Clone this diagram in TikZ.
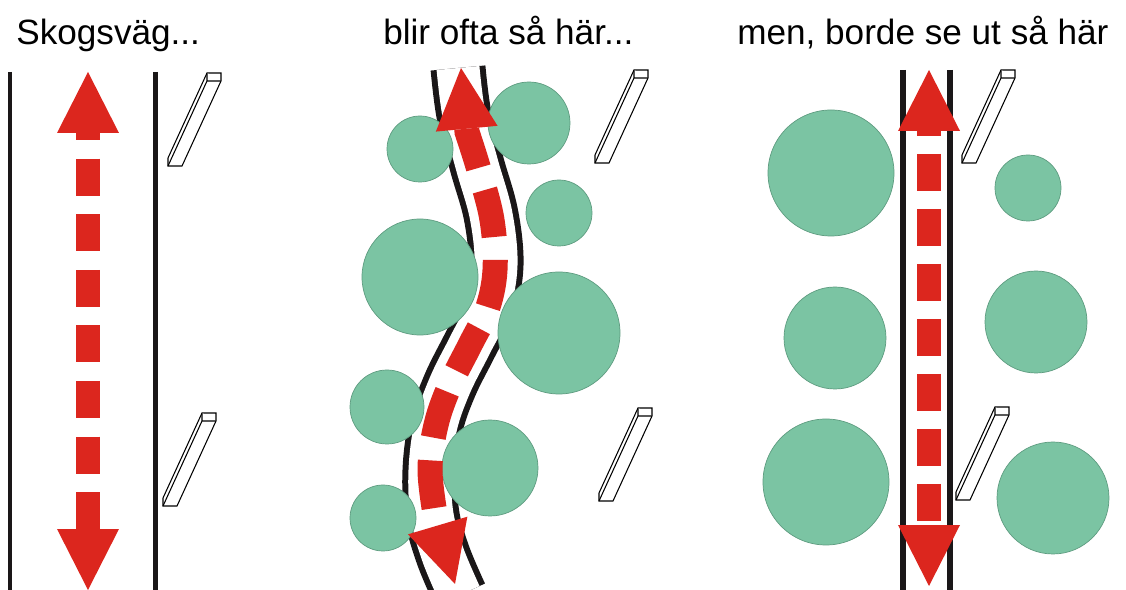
\documentclass[tikz,border=0pt]{standalone}
\usepackage{fontspec}
\setmainfont{Liberation Sans}
\usetikzlibrary{arrows.meta}

\begin{document}
\begin{tikzpicture}[x=0.02cm, y=-0.02cm,
    heading/.style={anchor=base west, inner sep=0pt, font=\fontsize{20}{24}\selectfont},
    roadLine/.style={draw=roadBlack, line width=0.1cm},
    tree/.style={fill=treeFill, draw=treeBorder, line width=0.4pt},
    post/.style={draw=black, fill=white, line width=0.6pt, line join=miter},
    trail/.style={draw=trailRed, line width=0.48cm,
        {Triangle[length=1.22cm, width=1.24cm, line width=0pt]}-{Triangle[length=1.22cm, width=1.24cm, line width=0pt]}}]
    % Color Palette
    \definecolor{roadBlack}{HTML}{1A1718}
    \definecolor{treeFill}{HTML}{7BC4A3}
    \definecolor{treeBorder}{HTML}{5E9C80}
    \definecolor{trailRed}{HTML}{DC261E}

    \useasboundingbox (0,0) rectangle (1126,590);

    % --- Headings ---
    \node[heading] (skogsvag) at (16,45) {Skogsväg...};
    \node[heading] (oftaHar) at (383,45) {blir ofta så här...};
    \node[heading] (bordeHar) at (737,45) {men, borde se ut så här};

    % --- Left: straight forest road ---
    \draw[roadLine] (10,72) -- (10,590);
    \draw[roadLine] (155,72) -- (155,590);

    % --- Middle: winding road ---
    \draw[roadLine, line width=0.12cm, double=white, double distance=0.86cm] plot[smooth, tension=0.6] coordinates
        {(458,68) (464,115) (477,165) (491,215) (496,265) (488,308) (470,345) (450,385) (436,425) (430,470) (432,515) (443,555) (460,595)};

    % --- Right: straight road ---
    \draw[roadLine, line width=0.12cm] (903,70) -- (903,590);
    \draw[roadLine, line width=0.12cm] (950,70) -- (950,590);

    % Posts
    \foreach \px/\py in {207/73, 202/413, 634/70, 638/408, 1001/70, 995/407} {
        \draw[post] (\px,\py) -- ++(14,0) -- ++(0,8) -- ++(-39,85) -- ++(-14,0) -- ++(0,-8) -- cycle;
        \draw[post] ({\px+14},{\py+8}) -- ++(-14,0) -- ++(0,-8) ({\px},{\py+8}) -- ++(-39,85);
    }

    % Trees along the winding road
    \draw[tree] (420,149) circle[radius=33];
    \draw[tree] (529,123) circle[radius=41];
    \draw[tree] (559,213) circle[radius=33];
    \draw[tree] (420,277) circle[radius=58];
    \draw[tree] (559,333) circle[radius=61];
    \draw[tree] (387,407) circle[radius=37];
    \draw[tree] (490,468) circle[radius=48];
    \draw[tree] (383,518) circle[radius=33];

    % Trees kept back from the straight road
    \draw[tree] (831,173) circle[radius=63];
    \draw[tree] (1028,188) circle[radius=33];
    \draw[tree] (835,338) circle[radius=51];
    \draw[tree] (1036,322) circle[radius=51];
    \draw[tree] (826,482) circle[radius=63];
    \draw[tree] (1053,498) circle[radius=56];

    % Arrows
    \draw[trail, dash pattern=on 0.74cm off 0.372cm, dash phase=0.6cm] (88,72) -- (88,590);
    \draw[trail, line width=0.5cm, dash pattern=on 0.96cm off 0.46cm, dash phase=0.14cm] (461,68) -- plot[smooth, tension=0.6] coordinates
        {(467,132) (479,170) (492,220) (495,270) (487,310) (470,345) (450,385) (436,425) (430,470) (436,520)} -- (455,584);
    \draw[trail, dash pattern=on 0.74cm off 0.36cm, dash phase=0.64cm] (929,70) -- (929,586);

\end{tikzpicture}
\end{document}
